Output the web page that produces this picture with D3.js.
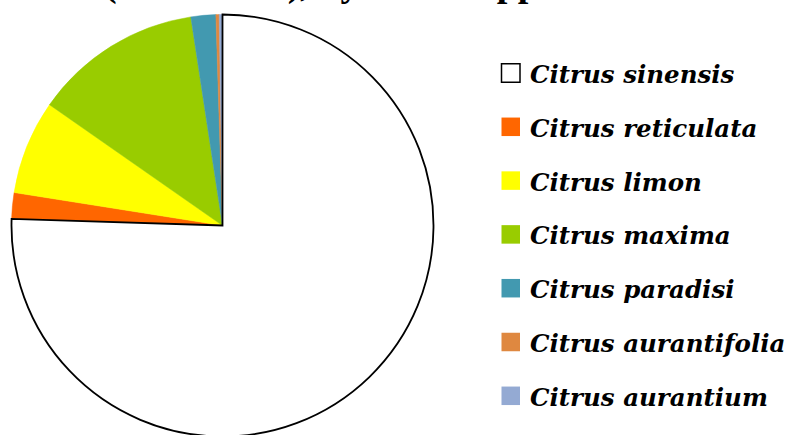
<!DOCTYPE html>
<html>
<head>
<meta charset="utf-8">
<script src="https://cdn.jsdelivr.net/npm/d3@7"></script>
<style>
  html, body { margin: 0; padding: 0; background: #ffffff; }
  svg { display: block; }
</style>
</head>
<body>
<svg id="chart" width="788" height="435"></svg>
<script>
// Species shares (%), clockwise from 12 o'clock
const species = [
  "Citrus sinensis",
  "Citrus reticulata",
  "Citrus limon",
  "Citrus maxima",
  "Citrus paradisi",
  "Citrus aurantifolia",
  "Citrus aurantium"
];
const shares = [75.5, 2.0, 7.2, 12.9, 1.9, 0.25, 0.25];
const colors = ["#ffffff", "#ff6600", "#ffff00", "#99cc00", "#4299b0", "#df8840", "#94aad3"];
const titleText = "Area (2000\u20132019), by Citrus spp.";

const svg = d3.select("#chart");

// Title line (runs off the top edge; only descenders remain in view)
svg.append("text")
  .attr("x", 15)
  .attr("y", -4)
  .attr("font-family", "'Liberation Serif', serif")
  .attr("font-weight", "bold")
  .attr("font-size", 38)
  .attr("fill", "#000")
  .text(titleText);

// Pie
const cx = 222.5, cy = 225.5, R = 211;
const data = species.map((s, i) => ({ name: s, value: shares[i], color: colors[i] }));
const pie = d3.pie().value(d => d.value).sort(null).startAngle(0).endAngle(2 * Math.PI);
const arc = d3.arc().innerRadius(0).outerRadius(R);
const arcs = pie(data);

const g = svg.append("g").attr("transform", `translate(${cx},${cy})`);
g.selectAll("path.slice")
  .data(arcs.slice(1))
  .join("path")
  .attr("class", "slice")
  .attr("d", arc)
  .attr("fill", d => d.data.color)
  .attr("stroke", d => d.data.color)
  .attr("stroke-width", 0.5);

// White slice with black outline drawn last so its edge stays on top
g.append("path")
  .datum(arcs[0])
  .attr("d", arc)
  .attr("fill", "#ffffff")
  .attr("stroke", "#000")
  .attr("stroke-width", 1.8)
  .attr("stroke-linejoin", "miter");

// Legend
const legendX = 501, rowY0 = 73, rowStep = 53.8, box = 18.5;
const y = d3.scalePoint().domain(species).range([rowY0, rowY0 + rowStep * (species.length - 1)]);
const rows = svg.append("g").selectAll("g.row").data(data).join("g")
  .attr("class", "row")
  .attr("transform", d => `translate(${legendX},${y(d.name)})`);

rows.append("rect")
  .attr("x", 0.5)
  .attr("y", -box / 2)
  .attr("width", box)
  .attr("height", box)
  .attr("fill", d => d.color)
  .attr("stroke", (d, i) => i === 0 ? "#000" : "none")
  .attr("stroke-width", 1.5);

rows.append("text")
  .attr("x", 29)
  .attr("y", 10)
  .attr("font-family", "'DejaVu Serif', serif")
  .attr("font-weight", "bold")
  .attr("font-style", "italic")
  .attr("font-size", 24.5)
  .attr("fill", "#000")
  .text(d => d.name);
</script>
</body>
</html>
